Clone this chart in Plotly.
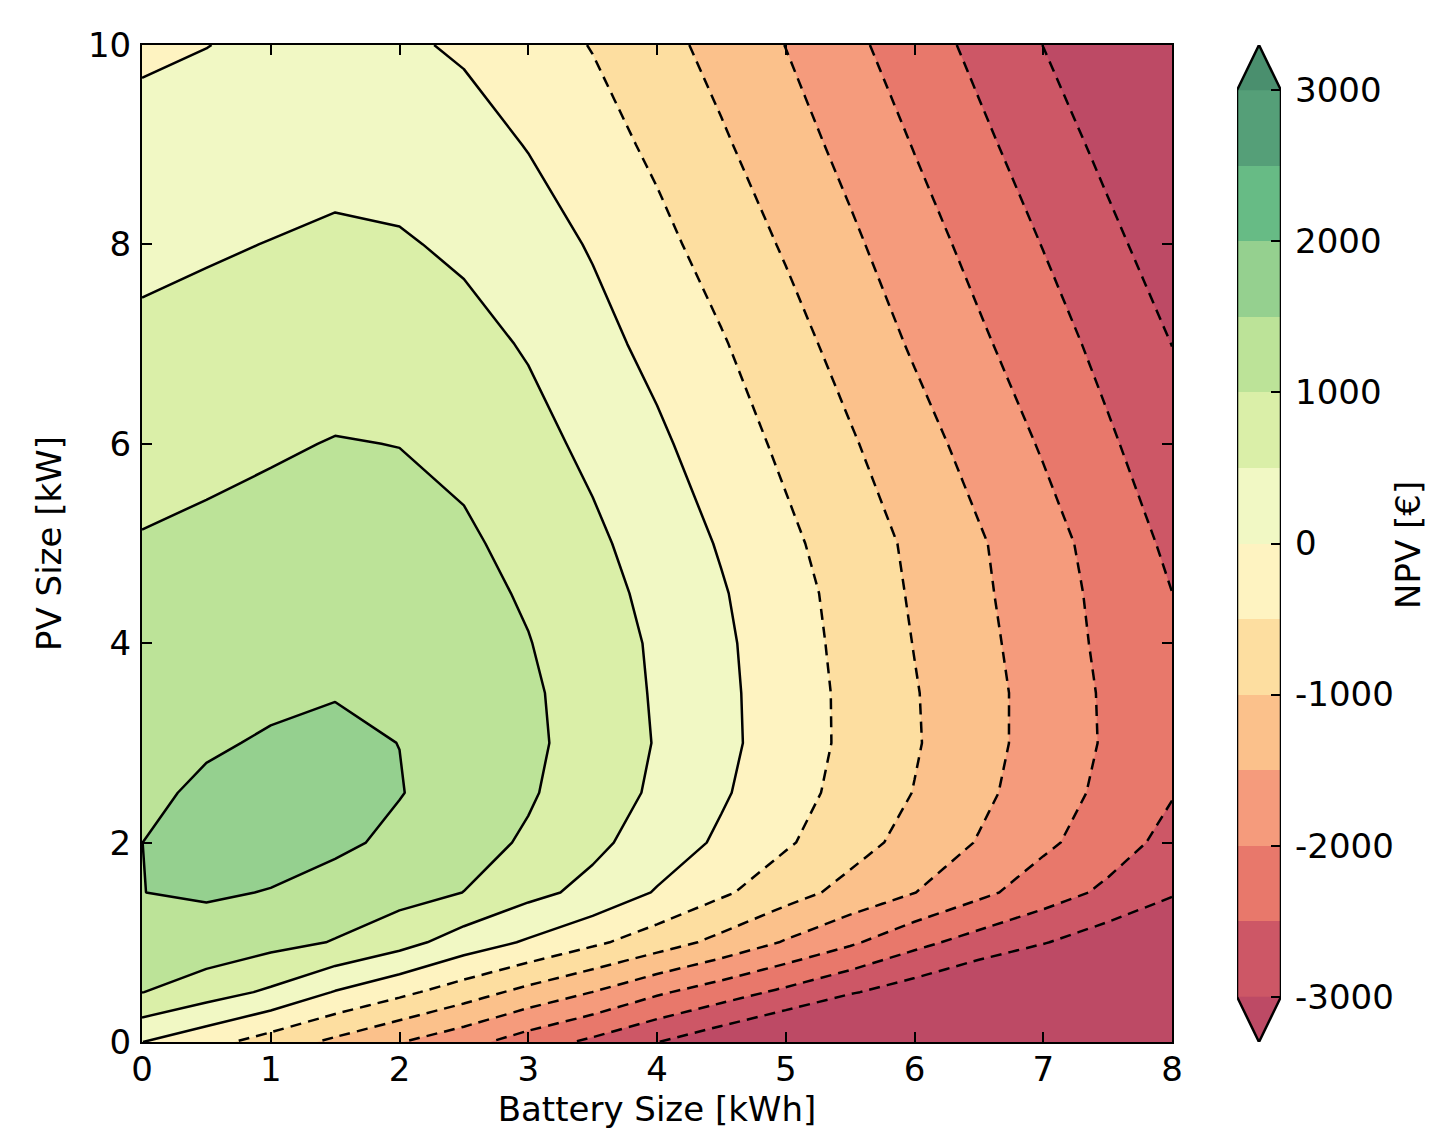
import plotly.graph_objects as go

# ---------------- data ----------------
battery_kwh = [0, 0.5, 1, 1.5, 2, 2.5, 3, 3.5, 4, 4.5, 5, 5.5, 6, 6.5, 7, 7.5, 8]
pv_kw = [0, 0.5, 1, 1.5, 2, 2.5, 3, 3.5, 4, 4.5, 5, 6, 7, 8, 9, 10]

# NPV [EUR] along battery size, one list per PV size
npv_pv_0_0 = [5, -330, -723, -1108, -1480, -1830, -2250, -2605, -2990, -3350, -3700, -4100, -4470, -4840, -5210, -5580, -5950]
npv_pv_0_5 = [1010, 720, 420, -27, -380, -756, -1149, -1505, -1923, -2265, -2606, -2955, -3253, -3550, -3850, -4150, -4450]
npv_pv_1_0 = [1300, 1320, 1150, 975, 680, 264, -58, -406, -760, -1140, -1542, -1924, -2357, -2703, -2971, -3273, -3400]
npv_pv_1_5 = [1497, 1545, 1485, 1290, 1180, 995, 640, 360, -38, -420, -800, -1160, -1491, -1880, -2260, -2600, -2960]
npv_pv_2_0 = [1499, 1600, 1650, 1602, 1389, 1175, 941, 612, 271, -80, -441, -809, -1171, -1530, -1903, -2261, -2660]
npv_pv_2_5 = [1425, 1560, 1640, 1650, 1519, 1285, 1051, 750, 420, 58, -304, -662, -1015, -1388, -1754, -2121, -2470]
npv_pv_3_0 = [1346, 1460, 1534, 1560, 1497, 1290, 1100, 795, 472, 120, -239, -607, -957, -1328, -1696, -2056, -2420]
npv_pv_3_5 = [1266, 1364, 1437, 1487, 1419, 1270, 1081, 769, 452, 110, -246, -609, -971, -1329, -1694, -2068, -2410]
npv_pv_4_0 = [1187, 1272, 1341, 1392, 1334, 1220, 1018, 733, 432, 89, -272, -642, -1014, -1371, -1735, -2109, -2440]
npv_pv_4_5 = [1108, 1180, 1246, 1299, 1248, 1150, 945, 670, 373, 40, -310, -677, -1057, -1414, -1775, -2138, -2497]
npv_pv_5_0 = [1029, 1088, 1150, 1204, 1164, 1077, 847, 592, 289, -42, -394, -743, -1093, -1450, -1812, -2203, -2598]
npv_pv_6_0 = [822, 887, 952, 1018, 993, 876, 653, 395, 86, -250, -599, -949, -1312, -1676, -2046, -2431, -2800]
npv_pv_7_0 = [604, 668, 731, 794, 767, 649, 459, 159, -136, -461, -814, -1182, -1558, -1920, -2283, -2645, -3005]
npv_pv_8_0 = [381, 448, 512, 577, 545, 421, 214, -40, -369, -701, -1051, -1413, -1784, -2152, -2515, -2882, -3250]
npv_pv_9_0 = [153, 222, 277, 337, 295, 188, -20, -302, -596, -938, -1285, -1644, -2022, -2390, -2757, -3126, -3496]
npv_pv_10_0 = [-75, -8, 92, 110, 70, -60, -290, -520, -835, -1164, -1508, -1886, -2257, -2627, -3005, -3370, -3740]

npv_grid = [npv_pv_0_0, npv_pv_0_5, npv_pv_1_0, npv_pv_1_5, npv_pv_2_0, npv_pv_2_5,
            npv_pv_3_0, npv_pv_3_5, npv_pv_4_0, npv_pv_4_5, npv_pv_5_0, npv_pv_6_0,
            npv_pv_7_0, npv_pv_8_0, npv_pv_9_0, npv_pv_10_0]

levels = [-3000, -2500, -2000, -1500, -1000, -500, 0, 500, 1000, 1500, 2000, 2500, 3000]
band_colors = ["#cd5766", "#e8786b", "#f59b7c", "#fbc18b", "#fddea0", "#fef3c1",
               "#f1f8c4", "#daefa8", "#bce398", "#95d08f", "#67bb85", "#559f78"]
under_color = "#bd4a65"
over_color = "#4a8f6e"
extend_len = 300

x_ticks = [0, 1, 2, 3, 4, 5, 6, 7, 8]
y_ticks = [0, 2, 4, 6, 8, 10]
cbar_ticks = [-3000, -2000, -1000, 0, 1000, 2000, 3000]
cbar_ticktext = ["-3000", "-2000", "-1000", "0", "1000", "2000", "3000"]

# ---------------- figure ----------------
W, H = 1433, 1132
OFF = 8  # page offset of the plot div (default body margin)
FONT = "DejaVu Sans"
FS = 34
LW = 2.5
step = levels[1] - levels[0]

all_cols = [under_color] + band_colors + [over_color]
ncol = len(all_cols)
colorscale = [[k / (ncol - 1), c] for k, c in enumerate(all_cols)]

fig = go.Figure()

fig.add_trace(go.Contour(
    x=battery_kwh, y=pv_kw, z=npv_grid,
    colorscale=colorscale, autocontour=False,
    contours=dict(start=levels[0], end=levels[-1], size=step,
                  coloring="fill", showlines=False),
    line=dict(width=0, smoothing=0), showscale=False, hoverinfo="skip"))

fig.add_trace(go.Contour(
    x=battery_kwh, y=pv_kw, z=npv_grid, autocontour=False,
    contours=dict(start=0, end=levels[-1], size=step, coloring="none"),
    line=dict(color="black", width=LW, smoothing=0), showscale=False, hoverinfo="skip"))

fig.add_trace(go.Contour(
    x=battery_kwh, y=pv_kw, z=npv_grid, autocontour=False,
    contours=dict(start=levels[0], end=-step, size=step, coloring="none"),
    line=dict(color="black", width=LW, smoothing=0, dash="11px,7px"),
    showscale=False, hoverinfo="skip"))

# ---- colour bar drawn as a small subplot ----
bases = levels[:-1]
heights = [levels[i + 1] - levels[i] for i in range(len(levels) - 1)]
fig.add_trace(go.Bar(
    x=[0.5] * len(bases), y=heights, base=bases, width=1,
    marker=dict(color=band_colors, line=dict(width=0)),
    xaxis="x2", yaxis="y2", hoverinfo="skip", showlegend=False))

top = levels[-1]
bot = levels[0]
fig.add_trace(go.Scatter(
    x=[0, 0.5, 1, 0], y=[top, top + extend_len, top, top], fill="toself",
    fillcolor=over_color, mode="lines", line=dict(width=0),
    xaxis="x2", yaxis="y2", hoverinfo="skip", showlegend=False))
fig.add_trace(go.Scatter(
    x=[0, 0.5, 1, 0], y=[bot, bot - extend_len, bot, bot], fill="toself",
    fillcolor=under_color, mode="lines", line=dict(width=0),
    xaxis="x2", yaxis="y2", hoverinfo="skip", showlegend=False))
fig.add_trace(go.Scatter(
    x=[0, 0, 0.5, 1, 1, 0.5, 0],
    y=[bot, top, top + extend_len, top, bot, bot - extend_len, bot],
    mode="lines", line=dict(color="black", width=LW), cliponaxis=False,
    xaxis="x2", yaxis="y2", hoverinfo="skip", showlegend=False))

# page-pixel -> paper helpers (compensating the page offset)
px_x = lambda v: (v - OFF) / W
px_y = lambda v: 1 - (v - OFF) / H

axis_common = dict(
    showgrid=False, zeroline=False, showline=True, linecolor="black", linewidth=2,
    mirror="allticks", ticks="inside", ticklen=10, tickwidth=1.5, tickcolor="black",
    tickfont=dict(family=FONT, size=FS, color="black"), automargin=False,
)

fig.update_layout(
    width=W, height=H, margin=dict(l=0, r=0, t=0, b=0, autoexpand=False),
    paper_bgcolor="white", plot_bgcolor="white", showlegend=False, bargap=0,
    font=dict(family=FONT, size=FS, color="black"),
    xaxis=dict(domain=[px_x(142), px_x(1172)], range=[0, 8], tickvals=x_ticks,
               ticklabelstandoff=-4,
               title=dict(text="Battery Size [kWh]", standoff=8,
                          font=dict(family=FONT, size=FS, color="black")),
               **axis_common),
    yaxis=dict(domain=[px_y(1042), px_y(45)], range=[0, 10], tickvals=y_ticks,
               ticklabelstandoff=2,
               title=dict(text="PV Size [kW]", standoff=16,
                          font=dict(family=FONT, size=FS, color="black")),
               **axis_common),
    xaxis2=dict(domain=[px_x(1237), px_x(1281)], range=[0, 1], visible=False,
                anchor="y2", fixedrange=True, automargin=False),
    yaxis2=dict(domain=[px_y(1042), px_y(45)], range=[bot - extend_len, top + extend_len],
                anchor="x2", side="right", tickvals=cbar_ticks, ticktext=cbar_ticktext,
                ticks="inside", ticklen=10, tickwidth=1.5, tickcolor="black",
                showline=False, showgrid=False, zeroline=False, ticklabelstandoff=13,
                automargin=False,
                tickfont=dict(family=FONT, size=FS, color="black")),
    annotations=[dict(text="NPV [€]", textangle=-90, showarrow=False,
                      xref="paper", yref="paper", x=px_x(1408), y=px_y(545),
                      xanchor="center", yanchor="middle",
                      font=dict(family=FONT, size=FS, color="black"))],
)

fig.write_html("out.html")
